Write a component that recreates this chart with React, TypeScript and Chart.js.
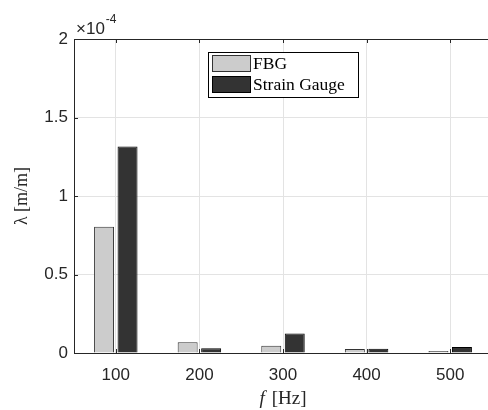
import React, { useEffect, useRef } from "react";
import { Chart, registerables } from "chart.js";

Chart.register(...registerables);

const categories = ["100", "200", "300", "400", "500"];
const fbgValues = [0.804e-4, 0.068e-4, 0.046e-4, 0.025e-4, 0.013e-4];
const strainGaugeValues = [1.315e-4, 0.03e-4, 0.125e-4, 0.027e-4, 0.038e-4];
const seriesLabels = ["FBG", "Strain Gauge"];
const yMin = 0;
const yMax = 2e-4;
const yStep = 0.5e-4;
const xTitleItalic = "f";
const xTitleRest = "[Hz]";
const yTitle = "λ [m/m]";
const exponentBase = "×10";
const exponentPower = "-4";

const AXIS = "#262626";
const GRID = "#e3e3e3";
const SANS = "'Liberation Sans', Arial, sans-serif";
const SERIF = "'Liberation Serif', 'DejaVu Serif', serif";

const decorPlugin = {
  id: "decor",
  afterDatasetsDraw(chart: any) {
    const { ctx, chartArea, scales } = chart;
    const { left, right, top, bottom } = chartArea;
    ctx.save();
    ctx.strokeStyle = AXIS;
    ctx.lineWidth = 1;
    ctx.beginPath();
    ctx.moveTo(left, top + 0.5);
    ctx.lineTo(right, top + 0.5);
    ctx.moveTo(right - 0.5, top);
    ctx.lineTo(right - 0.5, bottom);
    ctx.stroke();
    const tl = 4;
    ctx.beginPath();
    scales.y.ticks.forEach((t: any) => {
      const y = Math.round(scales.y.getPixelForValue(t.value)) + 0.5;
      ctx.moveTo(left, y);
      ctx.lineTo(left + tl, y);
      ctx.moveTo(right, y);
      ctx.lineTo(right - tl, y);
    });
    scales.x.ticks.forEach((t: any, i: number) => {
      const x = Math.round(scales.x.getPixelForValue(i)) + 0.5;
      ctx.moveTo(x, bottom);
      ctx.lineTo(x, bottom - tl);
      ctx.moveTo(x, top);
      ctx.lineTo(x, top + tl);
    });
    ctx.stroke();

    ctx.fillStyle = AXIS;
    ctx.textBaseline = "alphabetic";
    ctx.textAlign = "left";
    ctx.font = `17px ${SANS}`;
    ctx.fillText(exponentBase, left + 2, top - 5);
    const w = ctx.measureText(exponentBase).width;
    ctx.font = `12px ${SANS}`;
    ctx.fillText(exponentPower, left + 2 + w + 1, top - 16);

    ctx.fillStyle = "#262626";
    ctx.font = `italic 19px ${SERIF}`;
    const wf = ctx.measureText(xTitleItalic).width;
    ctx.font = `19px ${SERIF}`;
    const gap = 7;
    const wr = ctx.measureText(xTitleRest).width;
    const total = wf + gap + wr;
    const cx = (left + right) / 2;
    const xb = 404;
    ctx.font = `italic 19px ${SERIF}`;
    ctx.fillText(xTitleItalic, cx - total / 2, xb);
    ctx.font = `19px ${SERIF}`;
    ctx.fillText(xTitleRest, cx - total / 2 + wf + gap, xb);

    ctx.save();
    ctx.translate(22, (top + bottom) / 2);
    ctx.rotate(-Math.PI / 2);
    ctx.textAlign = "center";
    ctx.textBaseline = "middle";
    ctx.font = `18px ${SERIF}`;
    ctx.fillText(yTitle, 0, 0);
    ctx.restore();

    const lx = 208.5, ly = 52.5, lw = 150, lh = 45;
    ctx.fillStyle = "#ffffff";
    ctx.fillRect(lx, ly, lw, lh);
    ctx.strokeStyle = "#000000";
    ctx.strokeRect(lx, ly, lw, lh);
    const rows = [
      { y: 55.5, h: 16 },
      { y: 76.5, h: 16 },
    ];
    chart.data.datasets.forEach((ds: any, i: number) => {
      const r = rows[i];
      ctx.fillStyle = ds.backgroundColor;
      ctx.fillRect(212.5, r.y, 38, r.h);
      ctx.strokeStyle = ds.borderColor;
      ctx.strokeRect(212.5, r.y, 38, r.h);
      ctx.fillStyle = "#000000";
      ctx.font = `17.5px ${SERIF}`;
      ctx.textAlign = "left";
      ctx.textBaseline = "middle";
      ctx.fillText(ds.label, 253, r.y + r.h / 2 + 1);
    });
    ctx.restore();
  },
};

export default function App() {
  const ref = useRef<HTMLCanvasElement | null>(null);
  useEffect(() => {
    if (!ref.current) return;
    const chart = new Chart(ref.current, {
      type: "bar",
      data: {
        labels: categories,
        datasets: [
          {
            label: seriesLabels[0],
            data: fbgValues,
            backgroundColor: "#cccccc",
            borderColor: "#333333",
            borderWidth: 1,
          },
          {
            label: seriesLabels[1],
            data: strainGaugeValues,
            backgroundColor: "#333333",
            borderColor: "#000000",
            borderWidth: 1,
          },
        ],
      },
      options: {
        responsive: false,
        animation: false,
        devicePixelRatio: 1,
        layout: { padding: { top: 39, right: 8, left: 0, bottom: 0 } },
        datasets: {
          bar: { categoryPercentage: 0.562, barPercentage: 0.85 },
        },
        plugins: {
          legend: { display: false },
          tooltip: { enabled: false },
        },
        scales: {
          x: {
            offset: true,
            grid: { offset: false, color: GRID, drawTicks: false },
            border: { color: AXIS, width: 1 },
            ticks: {
              color: AXIS,
              font: { family: SANS, size: 17 },
              padding: 12,
              maxRotation: 0,
            },
            afterFit: (s: any) => {
              s.height = 57;
            },
          },
          y: {
            min: yMin,
            max: yMax,
            grid: { color: GRID, drawTicks: false },
            border: { color: AXIS, width: 1 },
            ticks: {
              stepSize: yStep,
              color: AXIS,
              font: { family: SANS, size: 17 },
              padding: 6,
              callback: (v: any) => String(Math.round(Number(v) * 1e5) / 10),
            },
            afterFit: (s: any) => {
              s.width = 74;
            },
          },
        },
      },
      plugins: [decorPlugin],
    });
    return () => chart.destroy();
  }, []);
  return (
    <div style={{ position: "fixed", left: 0, top: 0, width: 500, height: 410, background: "#fff" }}>
      <canvas ref={ref} width={500} height={410} style={{ display: "block" }} />
    </div>
  );
}
